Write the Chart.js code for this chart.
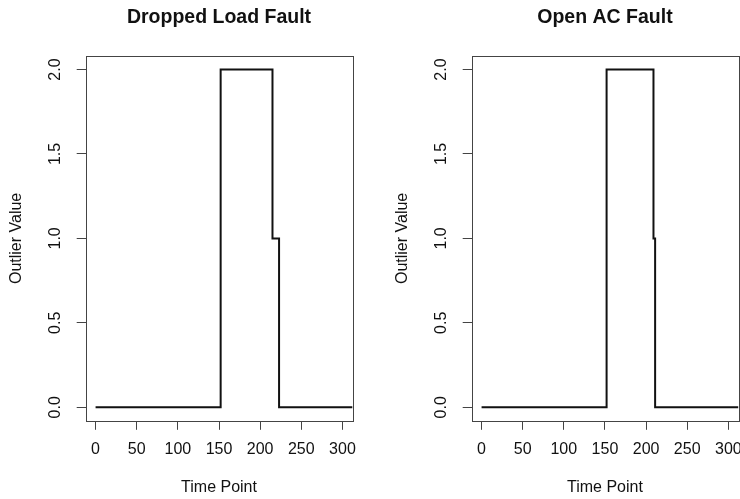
<!DOCTYPE html>
<html>
<head>
<meta charset="utf-8">
<script src="https://cdn.jsdelivr.net/npm/chart.js@4.4.0/dist/chart.umd.min.js"></script>
<style>
  html, body { margin: 0; padding: 0; background: #fff; }
  #wrap { position: relative; width: 740px; height: 499px; overflow: hidden; }
  canvas { position: absolute; top: 0; }
</style>
</head>
<body>
<div id="wrap">
  <canvas id="dropChart" width="370" height="499" style="left:0"></canvas>
  <canvas id="openChart" width="354" height="499" style="left:386px"></canvas>
</div>
<script>
// change points of each step series (value holds until the next time point)
const dropTimes = [0, 152, 215, 223, 330];
const dropValues = [0, 2, 1, 0, 0];
const openTimes = [0, 152, 209, 211, 330];
const openValues = [0, 2, 1, 0, 0];

const xTicks = [0, 50, 100, 150, 200, 250, 300];
const yTicks = [0, 0.5, 1, 1.5, 2];

const FONT = "'Liberation Sans', Arial, Helvetica, sans-serif";
const INK = '#111';

const boxPlugin = {
    id: 'box',
    afterDraw(chart) {
        const a = chart.chartArea;
        const ctx = chart.ctx;
        ctx.save();
        ctx.strokeStyle = '#444';
        ctx.lineWidth = 1;
        ctx.strokeRect(Math.round(a.left) + 0.5, Math.round(a.top) + 0.5,
            Math.round(a.right - a.left), Math.round(a.bottom - a.top));
        ctx.restore();
    }
};

// no extra room for overhanging end labels, like R
function noPad(s) {
    s.paddingLeft = 0;
    s.paddingRight = 0;
    s.paddingTop = 0;
    s.paddingBottom = 0;
}

function makeChart(id, title, times, values, padRight) {
    const points = times.map((t, i) => ({ x: t, y: values[i] }));
    return new Chart(document.getElementById(id), {
        type: 'line',
        data: {
            datasets: [{
                data: points,
                stepped: true,
                borderColor: INK,
                borderWidth: 2,
                pointRadius: 0,
                fill: false
            }]
        },
        options: {
            responsive: false,
            animation: false,
            layout: { padding: { left: 0, right: padRight, top: 0, bottom: 0 } },
            plugins: {
                legend: { display: false },
                tooltip: { enabled: false },
                title: {
                    display: true,
                    text: title,
                    fullSize: false,
                    color: INK,
                    font: { family: FONT, size: 19.5, weight: 'bold' },
                    padding: { top: 6, bottom: 26.6 }
                }
            },
            scales: {
                x: {
                    type: 'linear',
                    min: -12,
                    max: 312,
                    afterBuildTicks: s => { s.ticks = xTicks.map(v => ({ value: v })); },
                    afterFit: s => { s.height = 78.2; noPad(s); },
                    grid: { drawOnChartArea: false, drawTicks: true, tickLength: 9, color: '#444' },
                    border: { display: false },
                    ticks: {
                        color: INK,
                        font: { family: FONT, size: 16 },
                        padding: 10,
                        maxRotation: 0,
                        autoSkip: false
                    },
                    title: {
                        display: true,
                        text: 'Time Point',
                        color: INK,
                        font: { family: FONT, size: 16 },
                        padding: { top: 0, bottom: 1.7 }
                    }
                },
                y: {
                    type: 'linear',
                    min: -0.08,
                    max: 2.08,
                    afterBuildTicks: s => { s.ticks = yTicks.map(v => ({ value: v })); },
                    afterFit: s => { s.width = 85.7; noPad(s); },
                    grid: { drawOnChartArea: false, drawTicks: true, tickLength: 9, color: '#444' },
                    border: { display: false },
                    ticks: {
                        color: INK,
                        font: { family: FONT, size: 16 },
                        padding: 9.7,
                        minRotation: 90,
                        maxRotation: 90,
                        crossAlign: 'center',
                        autoSkip: false,
                        callback: v => Number(v).toFixed(1)
                    },
                    title: {
                        display: true,
                        text: 'Outlier Value',
                        color: INK,
                        font: { family: FONT, size: 16 },
                        padding: { top: 7.4, bottom: 0 }
                    }
                }
            }
        },
        plugins: [boxPlugin]
    });
}

makeChart('dropChart', 'Dropped Load Fault', dropTimes, dropValues, 17.7);
makeChart('openChart', 'Open AC Fault', openTimes, openValues, 1.8);
</script>
</body>
</html>
